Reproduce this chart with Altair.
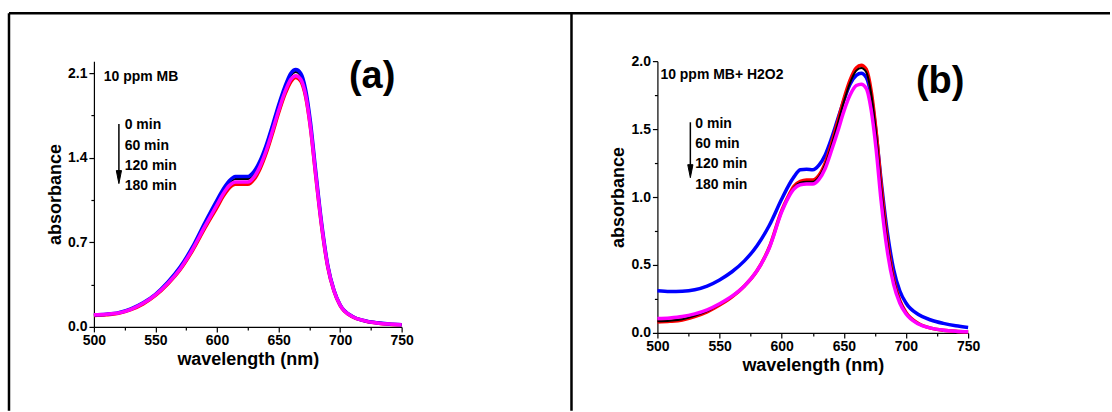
import altair as alt
import pandas as pd

# ---------------- data ----------------
wl = [500, 510, 520, 530, 540, 550, 560, 570, 580, 590, 600, 605, 610, 615, 620, 625,
      630, 635, 640, 645, 650, 655, 660, 664, 668, 672, 676, 680, 685, 690, 695, 700,
      710, 720, 730, 740, 750]

# panel (a) 10 ppm MB
a_black = [0.10, 0.105, 0.117, 0.148, 0.198, 0.268, 0.366, 0.488, 0.652, 0.845, 1.03, 1.12, 1.19, 1.225,
           1.225, 1.225, 1.265, 1.355, 1.485, 1.645, 1.815, 1.965, 2.08, 2.11, 2.08, 1.945, 1.67, 1.295,
           0.85, 0.505, 0.302, 0.181, 0.086, 0.05, 0.033, 0.023, 0.018]
a_red = [0.095, 0.10, 0.112, 0.142, 0.19, 0.26, 0.355, 0.473, 0.63, 0.815, 0.99, 1.08, 1.15, 1.18,
         1.18, 1.18, 1.22, 1.31, 1.44, 1.60, 1.77, 1.92, 2.03, 2.065, 2.035, 1.905, 1.64, 1.27,
         0.83, 0.495, 0.297, 0.178, 0.084, 0.049, 0.032, 0.022, 0.017]
a_blue = [0.10, 0.105, 0.118, 0.15, 0.20, 0.27, 0.37, 0.495, 0.66, 0.86, 1.05, 1.14, 1.21, 1.245,
          1.245, 1.245, 1.285, 1.375, 1.505, 1.665, 1.835, 1.985, 2.10, 2.13, 2.10, 1.965, 1.69, 1.31,
          0.86, 0.51, 0.305, 0.183, 0.087, 0.051, 0.034, 0.024, 0.018]
a_magenta = [0.10, 0.105, 0.115, 0.145, 0.195, 0.265, 0.36, 0.48, 0.64, 0.83, 1.01, 1.10, 1.17, 1.20,
             1.20, 1.20, 1.24, 1.33, 1.46, 1.62, 1.79, 1.94, 2.05, 2.08, 2.05, 1.92, 1.65, 1.28,
             0.84, 0.50, 0.30, 0.18, 0.085, 0.05, 0.033, 0.023, 0.018]

# panel (b) 10 ppm MB + H2O2
b_blue = [0.31, 0.305, 0.307, 0.318, 0.345, 0.39, 0.45, 0.53, 0.64, 0.79, 0.985, 1.075, 1.15, 1.20,
          1.205, 1.20, 1.235, 1.31, 1.43, 1.57, 1.71, 1.83, 1.895, 1.91, 1.88, 1.74, 1.47, 1.12,
          0.74, 0.47, 0.31, 0.22, 0.135, 0.095, 0.07, 0.052, 0.04]
b_red = [0.08, 0.085, 0.095, 0.12, 0.155, 0.205, 0.265, 0.345, 0.455, 0.63, 0.90, 1.00, 1.08, 1.115,
         1.125, 1.125, 1.16, 1.25, 1.39, 1.55, 1.72, 1.86, 1.95, 1.97, 1.94, 1.78, 1.48, 1.09,
         0.68, 0.40, 0.24, 0.15, 0.07, 0.035, 0.02, 0.012, 0.008]
b_black = [0.085, 0.09, 0.10, 0.125, 0.16, 0.21, 0.268, 0.345, 0.455, 0.628, 0.895, 0.99, 1.07, 1.105,
           1.112, 1.112, 1.148, 1.238, 1.377, 1.535, 1.70, 1.84, 1.93, 1.95, 1.92, 1.76, 1.46, 1.07,
           0.67, 0.395, 0.237, 0.148, 0.069, 0.035, 0.02, 0.012, 0.008]
b_magenta = [0.105, 0.11, 0.12, 0.14, 0.17, 0.215, 0.27, 0.345, 0.455, 0.625, 0.89, 0.99, 1.06, 1.09,
             1.095, 1.095, 1.13, 1.21, 1.34, 1.48, 1.63, 1.75, 1.82, 1.83, 1.80, 1.64, 1.35, 0.97,
             0.60, 0.36, 0.22, 0.14, 0.065, 0.035, 0.02, 0.012, 0.008]

legend_labels = ["0 min", "60 min", "120 min", "180 min"]
a_legend_x = [525, 525, 525, 525]
a_legend_y = [1.67, 1.50, 1.33, 1.17]
b_legend_x = [530.5, 530.5, 530.5, 530.5]
b_legend_y = [1.54, 1.39, 1.24, 1.09]

a_note = "10 ppm MB"
b_note = "10 ppm MB+ H2O2"
a_tag = "(a)"
b_tag = "(b)"

# ---------------- styling ----------------
SANS = "Liberation Sans, Arial"
ARROW_HEAD = "M-0.4,-1L0.4,-1L0,1Z"


def series_df(vals):
    return pd.DataFrame({"wl": wl, "absorbance": vals})


def build_panel(series, xdom, ydom, yvals, ymod, note, note_xy, tag, tag_xy,
                leg_x, leg_y, arrow, w, h, frame=None):
    xscale = alt.Scale(domain=xdom, nice=False, zero=False)
    yscale = alt.Scale(domain=ydom, nice=False, zero=False)
    xaxis = alt.Axis(
        values=list(range(500, 751, 25)),
        labelExpr="datum.value % 50 == 0 ? datum.label : ''",
        tickSize={"condition": {"test": "datum.value % 50 != 0", "value": 3}, "value": 5},
        title="wavelength (nm)", labelOverlap=False, labelFlush=False, format="d",
    )
    yaxis = alt.Axis(
        values=yvals, format=".1f",
        labelExpr=f"round(datum.value*100) % {ymod} == 0 ? datum.label : ''",
        tickSize={"condition": {"test": f"round(datum.value*100) % {ymod} != 0", "value": 3}, "value": 5},
        title="absorbance", labelOverlap=False, labelFlush=False,
    )

    def X(field):
        return alt.X(field, scale=xscale, axis=xaxis)

    def Y(field):
        return alt.Y(field, scale=yscale, axis=yaxis)

    layers = []
    for vals, color, sw in series:
        layers.append(
            alt.Chart(series_df(vals)).mark_line(color=color, strokeWidth=sw, interpolate="monotone")
            .encode(x=X("wl:Q"), y=Y("absorbance:Q"))
        )

    txt_df = pd.DataFrame({"t": [note], "x": [note_xy[0]], "y": [note_xy[1]]})
    layers.append(alt.Chart(txt_df).mark_text(align="left", baseline="middle", font=SANS,
                                              fontWeight="bold", fontSize=14, color="black")
                  .encode(x=X("x:Q"), y=Y("y:Q"), text="t:N"))
    tag_df = pd.DataFrame({"t": [tag], "x": [tag_xy[0]], "y": [tag_xy[1]]})
    layers.append(alt.Chart(tag_df).mark_text(align="center", baseline="middle", font=SANS,
                                              fontWeight="bold", fontSize=38, color="black")
                  .encode(x=X("x:Q"), y=Y("y:Q"), text="t:N"))
    leg_df = pd.DataFrame({"t": legend_labels, "x": leg_x, "y": leg_y})
    layers.append(alt.Chart(leg_df).mark_text(align="left", baseline="middle", font=SANS,
                                              fontWeight="bold", fontSize=14, color="black")
                  .encode(x=X("x:Q"), y=Y("y:Q"), text="t:N"))
    ax, ay1, ay2, atip = arrow
    arr_df = pd.DataFrame({"x": [ax], "y1": [ay1], "y2": [ay2]})
    layers.append(alt.Chart(arr_df).mark_rule(color="black", strokeWidth=1.5)
                  .encode(x=X("x:Q"), y=Y("y1:Q"), y2="y2:Q"))
    tip_df = pd.DataFrame({"x": [ax], "y": [atip]})
    layers.append(alt.Chart(tip_df).mark_point(shape=ARROW_HEAD, filled=True, fill="black",
                                               stroke="black", strokeWidth=1,
                                               size=170, opacity=1)
                  .encode(x=X("x:Q"), y=Y("y:Q")))
    if frame is not None:
        for f in frame:
            layers.append(alt.Chart(pd.DataFrame({"k": [0]})).mark_rule(color="black", strokeWidth=2.5)
                          .encode(**f))
    return alt.layer(*layers).properties(width=w, height=h)


# outer table frame, expressed relative to panel (a)'s plot origin
frame_a = [
    dict(x=alt.value(-85), y=alt.value(-48), y2=alt.value(350)),
    dict(x=alt.value(-85), x2=alt.value(1017), y=alt.value(-48)),
    dict(x=alt.value(478), y=alt.value(-48), y2=alt.value(350)),
]

panel_a = build_panel(
    [(a_black, "black", 2), (a_red, "#ff0000", 3.5), (a_blue, "#0000ff", 3.5), (a_magenta, "#ff00ff", 3.5)],
    [500, 750], [0, 2.2], [0, 0.35, 0.7, 1.05, 1.4, 1.75, 2.1], 70,
    a_note, (508, 2.07), a_tag, (726, 2.07), a_legend_x, a_legend_y,
    (520.3, 1.68, 1.28, 1.24), 308, 266, frame=frame_a)

panel_b = build_panel(
    [(b_blue, "#0000ff", 3.5), (b_red, "#ff0000", 3.5), (b_black, "black", 2), (b_magenta, "#ff00ff", 3.5)],
    [500, 750], [0, 2.0], [0, 0.25, 0.5, 0.75, 1.0, 1.25, 1.5, 1.75, 2.0], 50,
    b_note, (502.4, 1.90), b_tag, (727.5, 1.85), b_legend_x, b_legend_y,
    (526.5, 1.55, 1.22, 1.19), 311, 272)

chart = alt.hconcat(panel_a, panel_b, spacing=256, bounds="flush").properties(
    padding={"left": 7, "top": 11, "right": 0, "bottom": 0},
    background="white",
).configure_view(stroke=None).configure_axis(
    grid=False,
    domainColor="black", domainWidth=1.2,
    tickColor="black", tickWidth=1.2,
    labelColor="black", labelFont=SANS, labelFontWeight="bold", labelFontSize=14, labelPadding=2,
    titleColor="black", titleFont=SANS, titleFontWeight="bold", titleFontSize=18, titlePadding=3,
)

chart.save("out.html", embed_options={"renderer": "svg", "actions": False})
